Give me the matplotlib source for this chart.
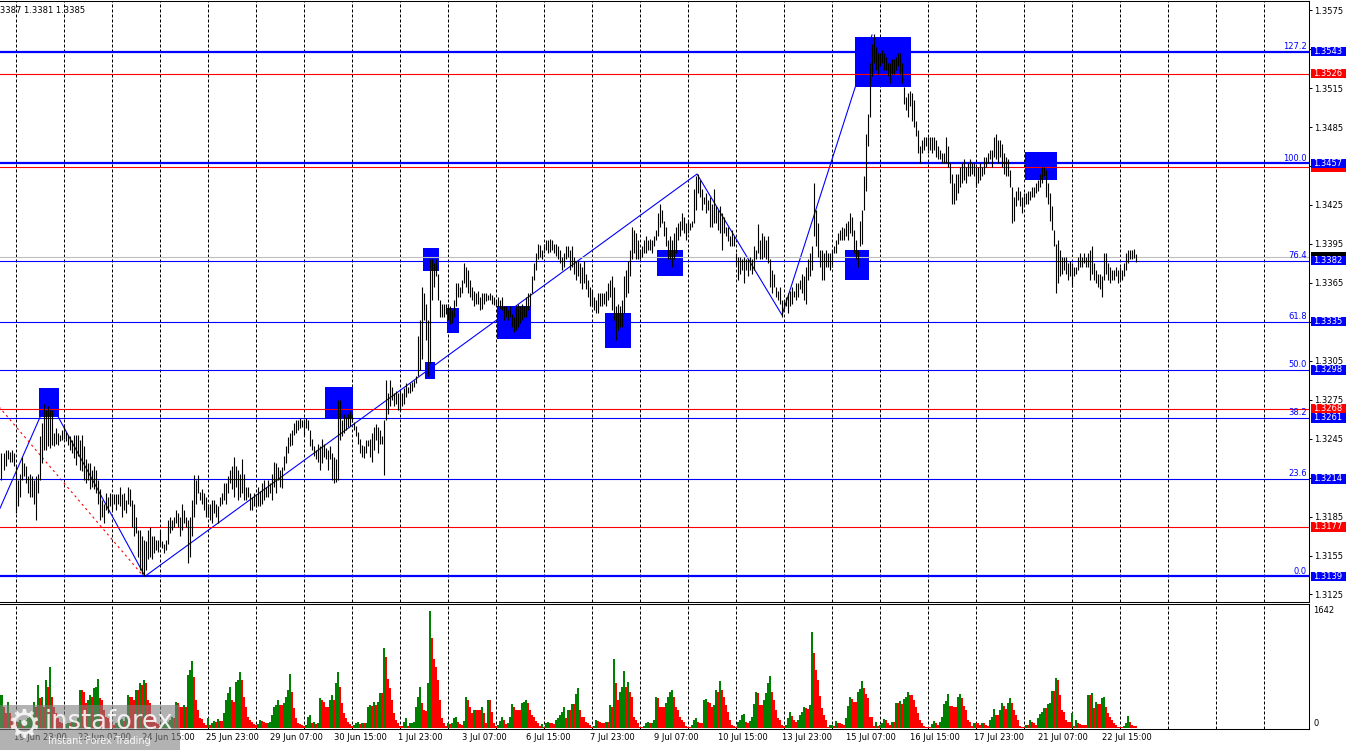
import matplotlib
matplotlib.use("Agg")
import matplotlib.pyplot as plt
import matplotlib.transforms as mtransforms
from matplotlib.patches import Rectangle
import numpy as np
import pandas as pd

# GBPUSD H1, prices kept as pips above 1.3000
BASE = 1.3

high_pips = [
    234, 234, 236, 236, 235, 236, 234, 224, 213, 218,
    231, 226, 224, 216, 218, 216, 213, 216, 218, 247,
    257, 272, 267, 270, 267, 267, 249, 253, 249, 248,
    252, 256, 250, 248, 247, 244, 248, 248, 248, 244,
    248, 239, 229, 226, 226, 221, 224, 221, 213, 206,
    198, 195, 203, 200, 203, 202, 202, 202, 202, 208,
    202, 203, 198, 208, 206, 198, 195, 185, 175, 175,
    170, 167, 166, 175, 177, 170, 170, 167, 167, 175,
    166, 164, 167, 182, 185, 182, 185, 190, 188, 185,
    195, 190, 185, 182, 185, 198, 217, 213, 217, 204,
    206, 203, 200, 195, 195, 198, 198, 195, 193, 200,
    203, 211, 211, 216, 221, 224, 231, 224, 221, 218,
    229, 218, 208, 208, 203, 200, 203, 202, 208, 205,
    211, 213, 208, 213, 211, 218, 227, 226, 223, 221,
    223, 232, 239, 246, 249, 252, 257, 259, 259, 261,
    259, 259, 261, 259, 252, 245, 239, 236, 241, 239,
    245, 241, 238, 236, 239, 234, 231, 229, 275, 275,
    259, 264, 262, 264, 266, 264, 258, 255, 250, 245,
    240, 239, 244, 244, 245, 249, 254, 256, 254, 252,
    247, 259, 290, 280, 290, 285, 280, 282, 280, 282,
    280, 284, 288, 285, 288, 289, 290, 293, 324, 336,
    362, 357, 349, 336, 383, 383, 380, 383, 372, 352,
    349, 349, 349, 349, 347, 344, 352, 365, 365, 362,
    367, 380, 377, 375, 367, 362, 359, 357, 359, 354,
    357, 357, 357, 356, 357, 356, 354, 352, 354, 352,
    354, 347, 347, 344, 347, 341, 339, 347, 349, 347,
    349, 347, 354, 357, 357, 370, 380, 388, 395, 394,
    390, 395, 398, 398, 399, 398, 395, 395, 393, 390,
    385, 388, 393, 393, 390, 393, 385, 382, 382, 380,
    377, 382, 372, 367, 362, 359, 354, 352, 357, 357,
    357, 357, 359, 365, 367, 370, 362, 347, 349, 347,
    352, 370, 375, 382, 390, 408, 406, 403, 398, 390,
    393, 398, 401, 398, 399, 398, 401, 406, 419, 426,
    421, 413, 408, 398, 401, 398, 403, 408, 411, 413,
    419, 416, 411, 413, 411, 413, 437, 447, 449, 444,
    437, 431, 434, 429, 431, 426, 437, 424, 421, 424,
    419, 416, 408, 408, 401, 406, 401, 388, 385, 385,
    383, 385, 383, 383, 385, 383, 393, 390, 410, 398,
    403, 401, 398, 401, 383, 375, 372, 362, 359, 362,
    352, 352, 354, 357, 359, 362, 359, 365, 365, 367,
    372, 370, 377, 383, 388, 393, 442, 421, 411, 390,
    390, 388, 390, 388, 388, 390, 393, 398, 403, 406,
    408, 407, 411, 413, 419, 416, 406, 398, 390, 413,
    421, 447, 480, 495, 534, 549, 557, 547, 542, 542,
    544, 542, 539, 534, 534, 537, 537, 539, 542, 542,
    534, 516, 508, 511, 513, 511, 506, 490, 483, 470,
    475, 477, 477, 477, 477, 477, 477, 475, 470, 467,
    465, 465, 477, 470, 457, 449, 442, 449, 449, 454,
    457, 460, 454, 457, 460, 457, 457, 454, 454, 457,
    454, 462, 462, 465, 467, 467, 477, 480, 475, 475,
    472, 465, 462, 460, 452, 439, 431, 436, 439, 436,
    431, 434, 434, 436, 436, 439, 439, 442, 444, 449,
    454, 454, 452, 442, 434, 424, 406, 395, 398, 390,
    385, 385, 385, 380, 382, 380, 377, 377, 385, 388,
    385, 388, 385, 388, 390, 393, 380, 375, 372, 372,
    370, 388, 388, 380, 377, 375, 375, 377, 375, 377,
    375, 380, 388, 390, 390, 390, 391, 387,
]

low_pips = [
    213, 221, 224, 229, 227, 227, 224, 188, 193, 200,
    213, 216, 211, 203, 200, 200, 195, 182, 203, 213,
    226, 236, 236, 239, 238, 240, 239, 241, 240, 243,
    244, 245, 243, 240, 236, 234, 230, 225, 232, 221,
    220, 213, 211, 213, 206, 208, 206, 203, 195, 182,
    185, 180, 190, 188, 193, 190, 195, 190, 195, 193,
    185, 190, 188, 195, 193, 177, 170, 172, 154, 144,
    141, 139, 144, 152, 154, 152, 157, 159, 158, 162,
    161, 157, 159, 164, 172, 175, 177, 180, 177, 170,
    175, 180, 177, 149, 154, 170, 185, 195, 203, 198,
    195, 190, 185, 185, 182, 180, 188, 185, 180, 193,
    195, 198, 195, 203, 211, 206, 200, 208, 198, 200,
    203, 198, 198, 200, 190, 190, 193, 192, 193, 193,
    195, 198, 200, 200, 203, 198, 208, 203, 213, 208,
    207, 221, 226, 234, 239, 240, 248, 249, 252, 253,
    254, 247, 253, 252, 239, 236, 232, 229, 227, 221,
    226, 231, 229, 221, 229, 213, 211, 212, 213, 244,
    247, 249, 252, 254, 255, 258, 252, 247, 241, 234,
    231, 230, 234, 239, 231, 227, 236, 244, 234, 241,
    241, 217, 259, 264, 270, 275, 270, 272, 267, 266,
    270, 272, 277, 280, 280, 282, 285, 288, 293, 298,
    306, 336, 321, 293, 303, 352, 362, 370, 352, 339,
    339, 339, 341, 336, 333, 334, 339, 347, 354, 354,
    357, 365, 362, 357, 354, 352, 347, 349, 349, 344,
    345, 349, 351, 352, 352, 349, 348, 347, 347, 345,
    344, 336, 339, 336, 339, 331, 327, 329, 331, 334,
    336, 339, 339, 344, 347, 357, 367, 375, 383, 385,
    383, 388, 390, 388, 389, 390, 388, 386, 383, 380,
    375, 377, 383, 385, 375, 377, 372, 367, 370, 365,
    360, 365, 360, 354, 347, 347, 344, 342, 342, 347,
    347, 349, 347, 352, 354, 344, 336, 321, 329, 331,
    331, 342, 354, 357, 370, 383, 388, 383, 383, 383,
    385, 388, 388, 390, 390, 388, 393, 398, 401, 408,
    411, 401, 393, 383, 383, 377, 383, 388, 398, 401,
    406, 403, 398, 403, 406, 408, 411, 421, 434, 431,
    421, 426, 419, 421, 408, 408, 411, 411, 406, 403,
    390, 403, 401, 397, 393, 393, 393, 378, 367, 372,
    375, 365, 375, 370, 375, 372, 375, 383, 388, 383,
    383, 385, 383, 380, 362, 357, 362, 354, 352, 349,
    339, 345, 347, 342, 347, 349, 354, 352, 354, 360,
    357, 352, 349, 367, 370, 375, 401, 393, 385, 377,
    367, 367, 377, 377, 375, 377, 388, 388, 395, 398,
    398, 398, 401, 398, 403, 401, 388, 383, 377, 393,
    395, 421, 436, 470, 493, 524, 534, 529, 526, 532,
    534, 529, 529, 524, 519, 526, 526, 529, 532, 526,
    519, 503, 498, 493, 501, 490, 485, 478, 465, 457,
    465, 467, 470, 465, 467, 465, 467, 462, 460, 460,
    457, 457, 457, 454, 442, 426, 426, 429, 434, 439,
    442, 444, 442, 447, 447, 449, 447, 439, 442, 444,
    447, 449, 454, 457, 460, 454, 462, 460, 457, 462,
    454, 449, 447, 447, 439, 411, 413, 424, 429, 424,
    419, 424, 426, 426, 429, 431, 431, 434, 436, 439,
    442, 447, 431, 426, 413, 406, 393, 357, 365, 370,
    372, 375, 372, 367, 370, 362, 370, 372, 375, 377,
    377, 380, 377, 377, 367, 372, 367, 365, 362, 360,
    354, 367, 372, 367, 365, 367, 367, 370, 365, 367,
    367, 370, 375, 380, 383, 383, 384, 381,
]

volume = [
    463, 300, 206, 370, 206, 160, 112, 66, 89, 112,
    66, 89, 112, 136, 160, 229, 370, 300, 604, 417,
    440, 300, 674, 580, 861, 440, 300, 206, 136, 89,
    66, 42, 56, 75, 66, 89, 112, 103, 136, 534,
    534, 510, 346, 393, 463, 440, 557, 580, 688, 417,
    393, 253, 160, 136, 89, 56, 42, 66, 89, 112,
    122, 103, 160, 463, 440, 440, 393, 534, 534, 627,
    604, 674, 627, 393, 346, 160, 112, 75, 56, 28,
    42, 56, 66, 89, 112, 160, 136, 370, 346, 300,
    300, 323, 300, 744, 814, 940, 720, 393, 253, 136,
    122, 66, 42, 136, 42, 66, 103, 89, 122, 103,
    94, 206, 393, 487, 580, 393, 370, 650, 674, 791,
    674, 440, 300, 160, 112, 89, 56, 42, 56, 112,
    103, 89, 66, 75, 89, 183, 300, 323, 393, 323,
    323, 346, 440, 534, 758, 510, 276, 136, 66, 56,
    42, 28, 42, 160, 183, 75, 89, 56, 66, 417,
    393, 370, 300, 300, 393, 463, 393, 627, 791, 580,
    346, 206, 136, 89, 56, 28, 42, 66, 89, 56,
    75, 66, 75, 300, 323, 309, 370, 323, 370, 487,
    487, 1128, 1002, 683, 557, 393, 206, 112, 75, 28,
    28, 89, 136, 28, 66, 75, 89, 300, 440, 571,
    346, 253, 243, 627, 1642, 1259, 964, 861, 674, 393,
    136, 66, 28, 66, 56, 75, 136, 160, 89, 56,
    42, 103, 430, 393, 300, 206, 253, 253, 253, 253,
    290, 206, 66, 393, 393, 229, 66, 28, 42, 103,
    160, 112, 56, 66, 160, 337, 300, 253, 253, 253,
    346, 370, 393, 346, 253, 183, 160, 103, 66, 28,
    56, 19, 66, 89, 75, 66, 56, 112, 136, 183,
    229, 300, 136, 253, 253, 337, 337, 473, 557, 253,
    160, 160, 89, 75, 42, 19, 28, 112, 103, 89,
    75, 66, 89, 89, 323, 300, 964, 627, 393, 510,
    580, 800, 580, 650, 510, 440, 160, 112, 66, 19,
    19, 28, 66, 84, 66, 75, 112, 440, 417, 300,
    300, 300, 346, 440, 510, 534, 440, 300, 253, 160,
    112, 89, 28, 19, 19, 42, 112, 136, 89, 75,
    75, 393, 407, 370, 346, 300, 323, 534, 510, 660,
    534, 440, 323, 229, 112, 42, 28, 19, 80, 112,
    183, 192, 89, 66, 103, 160, 332, 510, 487, 323,
    323, 393, 487, 627, 734, 510, 393, 253, 136, 112,
    42, 28, 42, 136, 229, 168, 112, 89, 112, 183,
    229, 300, 276, 262, 323, 1348, 1048, 814, 674, 454,
    285, 183, 112, 19, 42, 47, 28, 103, 66, 66,
    56, 42, 136, 309, 440, 407, 370, 370, 501, 548,
    660, 557, 477, 417, 160, 160, 28, 89, 28, 42,
    66, 126, 112, 75, 42, 89, 89, 356, 346, 384,
    337, 402, 440, 510, 463, 463, 393, 300, 206, 112,
    66, 28, 19, 19, 19, 56, 94, 75, 42, 89,
    160, 337, 384, 477, 309, 309, 300, 290, 430, 477,
    417, 309, 253, 112, 89, 28, 75, 66, 66, 42,
    66, 66, 42, 28, 112, 150, 262, 183, 178, 253,
    346, 309, 262, 346, 417, 346, 253, 183, 112, 28,
    19, 19, 42, 42, 112, 80, 66, 42, 136, 197,
    229, 276, 276, 337, 346, 519, 519, 707, 674, 463,
    253, 229, 112, 89, 89, 206, 28, 112, 75, 56,
    47, 37, 37, 463, 463, 487, 276, 370, 332, 332,
    417, 430, 290, 206, 160, 112, 66, 42, 19, 19,
    19, 28, 66, 168, 89, 42, 33, 28,
]

# trading hours only (weekends skipped)
hours = pd.date_range("2020-06-19 17:00", "2020-07-23 08:00", freq="h")
hours = hours[hours.dayofweek < 5]
idx = np.arange(len(hours))

# fibonacci grid and other horizontal levels
fib_prices = [1.3543, 1.3457, 1.3382, 1.3335, 1.3298, 1.3261, 1.3214, 1.3139]
fib_names = ["127.2", "100.0", "76.4", "61.8", "50.0", "38.2", "23.6", "0.0"]
fib_thick = [True, True, False, False, False, False, False, True]
red_prices = [1.3526, 1.3454, 1.3268, 1.3177]
red_hidden = [False, True, False, False]   # tag sits under the 1.3457 tag
last_price = 1.3385
price_ticks = [1.3125, 1.3155, 1.3185, 1.3215, 1.3245, 1.3275, 1.3305, 1.3335,
               1.3365, 1.3395, 1.3425, 1.3455, 1.3485, 1.3515, 1.3545, 1.3575]
covered_ticks = [1.3215, 1.3335, 1.3455, 1.3545]   # hidden behind level tags

# blue boxes: bar from, bar to, low pips, high pips
boxes = [
    (18.75, 28.75, 262, 284),
    (161.75, 175.6, 260, 285),
    (210.75, 218.75, 374, 392),
    (222.75, 228.75, 326, 346),
    (211.75, 216.75, 291, 304),
    (247.75, 264.75, 322, 347),
    (301.75, 314.75, 315, 342),
    (327.75, 340.75, 370, 390),
    (421.75, 433.75, 367, 390),
    (426.75, 454.75, 516, 554),
    (511.75, 527.75, 444, 466),
]

zigzag_bar = [-0.75, 23.35, 71.75, 347.75, 390.25, 435.25]
zigzag_pips = [191.4, 275.9, 139, 448.8, 340.2, 555.9]
fibline_bar = [-105, 71]
fibline_pips = [457, 139]

BLUE = "#0000ff"
RED = "#ff0000"
GREEN = "#008000"
px = 1 / 1350

fig = plt.figure(figsize=(13.5, 7.5), dpi=100)
fig.patch.set_facecolor("white")
ax = fig.add_axes([0, 148 / 750, 1309 * px, 601 / 750])
axv = fig.add_axes([0, 21 / 750, 1309 * px, 125 / 750])

hi = BASE + np.array(high_pips) / 1e4
lo = BASE + np.array(low_pips) / 1e4

ax.set_xlim(-0.75, 653.75)
axv.set_xlim(-0.75, 653.75)
ax.set_ylim(BASE + 0.011920, BASE + 0.058205)
axv.set_ylim(-14, 1740)

# day separators
grid_idx = list(idx[hours.hour == 0])
while grid_idx[-1] + 24 < 654:
    grid_idx.append(grid_idx[-1] + 24)
for g in grid_idx:
    for a in (ax, axv):
        a.axvline(g, color="black", lw=0.72, ls=(0, (3, 2)), zorder=1)

for b0, b1, p0, p1 in boxes:
    ax.add_patch(Rectangle((b0, BASE + p0 / 1e4), b1 - b0, (p1 - p0) / 1e4,
                           facecolor=BLUE, edgecolor="none", zorder=2))

ax.plot(zigzag_bar, BASE + np.array(zigzag_pips) / 1e4, color=BLUE, lw=0.8, zorder=1.5)
ax.plot(fibline_bar, BASE + np.array(fibline_pips) / 1e4, color=RED, lw=0.8,
        ls=(0, (2, 3)), zorder=1.5)

for p, thick in zip(fib_prices, fib_thick):
    ax.axhline(p, color=BLUE, lw=1.6 if thick else 0.8, zorder=3)
for p in red_prices:
    ax.axhline(p, color=RED, lw=0.8, zorder=3)
ax.axhline(last_price, color="#c0c0c0", lw=0.8, zorder=3)

ax.vlines(idx, lo, hi, color="black", lw=0.8, zorder=4)

colors = [GREEN] + [GREEN if volume[k] > volume[k - 1] else RED for k in range(1, len(volume))]
axv.bar(idx, volume, width=1.0, color=colors, linewidth=0, zorder=3)

# frames
for a in (ax, axv):
    a.set_facecolor("white")
    a.spines["left"].set_visible(False)
    for s in ("top", "right", "bottom"):
        a.spines[s].set_linewidth(0.75)
        a.spines[s].set_color("black")

ax.yaxis.tick_right()
ax.set_yticks(price_ticks)
ax.set_yticklabels(["" if t in covered_ticks else f"{t:.4f}" for t in price_ticks])
ax.tick_params(axis="y", direction="out", length=2.2, width=0.72, labelsize=6, pad=1.2)
ax.set_xticks([])

axv.set_yticks([])
label_idx = list(range(6, len(hours), 32))
axv.set_xticks(label_idx)
axv.set_xticklabels([f"{hours[k].day} {hours[k]:%b %H:%M}" for k in label_idx],
                    fontsize=6, ha="left")
axv.tick_params(axis="x", length=0, pad=3)

tr = mtransforms.blended_transform_factory(ax.transAxes, ax.transData)
trv = mtransforms.blended_transform_factory(axv.transAxes, axv.transData)

for p, name in zip(fib_prices, fib_names):
    ax.text(1307 / 1309, p + 0.00006, name, color=BLUE, fontsize=6, ha="right",
            va="bottom", transform=tr, zorder=5)


def price_box(p, color, label=True):
    hh = 0.00036
    ax.add_patch(Rectangle((1311 / 1309, p - hh), 35 / 1309, 2 * hh, transform=tr,
                           facecolor=color, edgecolor="none", clip_on=False, zorder=10))
    if label:
        ax.text(1313.5 / 1309, p, f"{p:.4f}", color="white", fontsize=6, ha="left",
                va="center", transform=tr, clip_on=False, zorder=11)


price_box(last_price, "black", label=False)
for p, hidden in zip(red_prices, red_hidden):
    price_box(p, RED, label=not hidden)
for p in fib_prices:
    price_box(p, BLUE)

axv.text(1313 / 1309, 1642, "1642", fontsize=6, ha="left", va="center", transform=trv)
axv.text(1313 / 1309, 0, "0", fontsize=6, ha="left", va="bottom", transform=trv)

fig.text(-8 * px, 1 - 10.7 / 750, "1.3387 1.3381 1.3385", fontsize=6, ha="left", va="center")

# watermark
ov = fig.add_axes([0, 0, 1, 1], zorder=5)
ov.set_xlim(0, 1350)
ov.set_ylim(750, 0)
ov.axis("off")
ov.add_patch(Rectangle((0, 705), 180, 45, facecolor="#808080", alpha=0.6, edgecolor="none"))
ov.text(24, 726, "\u2699", fontsize=28, color="white", alpha=0.85, ha="center", va="center")
ov.text(45, 722, "instaforex", fontsize=18.5, color="white", alpha=0.85, ha="left", va="center")
ov.text(48, 741, "Instant Forex Trading", fontsize=7, color="white", alpha=0.9,
        ha="left", va="center")

fig.savefig("out.png", dpi=100)
